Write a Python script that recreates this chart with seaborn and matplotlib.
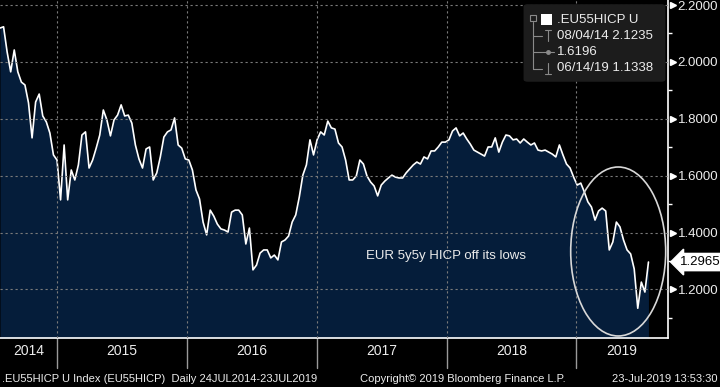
import pandas as pd
import matplotlib
matplotlib.use("Agg")
import matplotlib.pyplot as plt
import matplotlib.transforms as mtransforms
from matplotlib.patches import Ellipse, FancyBboxPatch, Rectangle
from matplotlib.lines import Line2D
import seaborn as sns

# series: EUR 5y5y HICP (about every 10 days)
START = "2014-07-24"
END = "2019-07-23"
values = [
    2.119, 2.1235, 2.035, 1.965, 2.042, 1.965, 1.929, 1.919, 1.856, 1.733,
    1.859, 1.887, 1.810, 1.789, 1.750, 1.673, 1.655, 1.515, 1.708, 1.515,
    1.620, 1.585, 1.638, 1.743, 1.754, 1.627, 1.655, 1.697, 1.743, 1.831,
    1.796, 1.740, 1.796, 1.813, 1.849, 1.810, 1.813, 1.785, 1.708, 1.659,
    1.627, 1.694, 1.701, 1.585, 1.610, 1.666, 1.736, 1.754, 1.761, 1.803,
    1.708, 1.697, 1.659, 1.655, 1.620, 1.550, 1.518, 1.437, 1.392, 1.479,
    1.458, 1.430, 1.413, 1.409, 1.402, 1.472, 1.479, 1.479, 1.462, 1.360,
    1.416, 1.269, 1.286, 1.328, 1.339, 1.339, 1.311, 1.321, 1.304, 1.367,
    1.374, 1.388, 1.437, 1.462, 1.525, 1.602, 1.638, 1.726, 1.673, 1.726,
    1.754, 1.743, 1.792, 1.768, 1.764, 1.715, 1.701, 1.655, 1.585, 1.585,
    1.599, 1.655, 1.641, 1.599, 1.578, 1.564, 1.529, 1.567, 1.581, 1.592,
    1.602, 1.595, 1.592, 1.592, 1.610, 1.624, 1.638, 1.648, 1.641, 1.666,
    1.659, 1.687, 1.687, 1.701, 1.718, 1.718, 1.726, 1.757, 1.768, 1.740,
    1.750, 1.729, 1.711, 1.690, 1.683, 1.676, 1.669, 1.701, 1.701, 1.733,
    1.683, 1.718, 1.743, 1.740, 1.726, 1.729, 1.715, 1.729, 1.718, 1.708,
    1.715, 1.690, 1.687, 1.690, 1.683, 1.676, 1.666, 1.708, 1.673, 1.641,
    1.627, 1.595, 1.567, 1.574, 1.543, 1.508, 1.490, 1.444, 1.476, 1.486,
    1.476, 1.339, 1.367, 1.437, 1.420, 1.374, 1.339, 1.325, 1.272, 1.134,
    1.226, 1.191, 1.2965,
]
years = ["2014", "2015", "2016", "2017", "2018", "2019"]
year_starts = ["2015-01-01", "2016-01-01", "2017-01-01", "2018-01-01", "2019-01-01"]
yticks = [1.2, 1.4, 1.6, 1.8, 2.0, 2.2]
yticks_minor = [1.1, 1.3, 1.5, 1.7, 1.9, 2.1]
last_value = 1.2965
legend_rows = [".EU55HICP U", "08/04/14 2.1235", "1.6196", "06/14/19 1.1338"]
note = "EUR 5y5y HICP off its lows"
footer_left = ".EU55HICP U Index (EU55HICP)  Daily 24JUL2014-23JUL2019"
footer_mid = "Copyright\u00a9 2019 Bloomberg Finance L.P."
footer_right = "23-Jul-2019 13:53:30"

BG = "black"
FILL = "#051d3a"
TXT = "#ececec"
GRID = "#7a7a7a"

sns.set_style("dark", {"axes.facecolor": BG, "figure.facecolor": BG})
plt.rcParams["font.family"] = ["Liberation Sans", "DejaVu Sans"]

dates = pd.date_range(START, END, periods=len(values))
df = pd.DataFrame({"date": dates, "value": values})

fig = plt.figure(figsize=(7.2, 3.87), dpi=100, facecolor=BG)
ax = fig.add_axes([0, 49 / 387, 668 / 720, 338 / 387])
ax.set_facecolor(BG)

ymin, ymax = 1.0295, 2.2176
ax.fill_between(df["date"], df["value"], ymin, color=FILL, lw=0, zorder=2)
sns.lineplot(data=df, x="date", y="value", ax=ax, color="white", lw=1.2, zorder=3)
ax.set_xlim(pd.Timestamp(START), pd.Timestamp("2019-09-16"))
ax.set_ylim(ymin, ymax)
ax.set_xlabel("")
ax.set_ylabel("")

# grid
ax.grid(False)
for v in yticks:
    ax.axhline(v, color=GRID, lw=0.8, ls=(0, (2, 2.5)), zorder=4)
for d in year_starts:
    ax.axvline(pd.Timestamp(d), color=GRID, lw=0.8, ls=(0, (2, 2.5)), zorder=4)

# spines
for s in ["left", "top"]:
    ax.spines[s].set_visible(False)
for s in ["right", "bottom"]:
    ax.spines[s].set_color("white")
    ax.spines[s].set_linewidth(1.2)

# y axis on the right
ax.yaxis.tick_right()
ax.set_yticks(yticks)
ax.set_yticklabels([f"{v:.4f}" for v in yticks])
ax.set_yticks(yticks_minor, minor=True)
ax.tick_params(axis="y", which="major", length=0, pad=7, labelsize=9.5, labelcolor=TXT)
ax.tick_params(axis="y", which="minor", length=3, width=1, color="white", direction="out")
ytrans = mtransforms.blended_transform_factory(ax.transAxes, ax.transData)
ax.plot([1.007] * len(yticks), yticks, transform=ytrans, marker=">", ms=5,
        color="white", ls="none", clip_on=False)

# last value tag
ax.text(1.018, last_value, f"{last_value:.4f}", transform=ytrans, ha="left", va="center",
        fontsize=9.5, color="black",
        bbox=dict(boxstyle="larrow,pad=0.2", fc="white", ec="white"))

# x axis: quarterly ticks, year separators and labels
quarters = pd.date_range("2014-10-01", "2019-07-01", freq="QS")
ax.set_xticks(quarters)
ax.set_xticklabels([])
ax.tick_params(axis="x", length=5, width=1, color="white", direction="out")
xtrans = mtransforms.blended_transform_factory(ax.transData, ax.transAxes)
for d in year_starts:
    ax.plot([pd.Timestamp(d)] * 2, [0, -30 / 338], transform=xtrans, color="#9a9a9a",
            lw=1, clip_on=False)
bounds = [pd.Timestamp(START)] + [pd.Timestamp(d) for d in year_starts] + [pd.Timestamp("2019-09-16")]
for i, y in enumerate(years):
    mid = bounds[i] + (bounds[i + 1] - bounds[i]) / 2
    ax.text(mid, -13 / 338, y, transform=xtrans, ha="center", va="center",
            fontsize=10, color=TXT)

# annotation and ellipse
ax.text(pd.Timestamp("2017-12-31"), 1.318, note, ha="center", va="center",
        fontsize=9.5, color=TXT, zorder=5)
ax.add_patch(Ellipse((618.2 / 668, (338 - 251.5) / 338), 95 / 668, 169 / 338,
                     transform=ax.transAxes, fill=False, ec="#d8d8d8", lw=1.2,
                     zorder=6, clip_on=False))

# legend box (Bloomberg style)
def fx(px):
    return px / 720


def fy(py):
    return 1 - py / 387


fig.patches.append(FancyBboxPatch((fx(525), fy(81)), fx(139), 76 / 387,
                                  boxstyle="round,pad=0.002,rounding_size=0.006",
                                  transform=fig.transFigure, fc="#1c1c1c", ec="none",
                                  zorder=10))
fig.patches.append(Rectangle((fx(541), fy(25)), fx(11), 11 / 387,
                             transform=fig.transFigure, fc="white", ec="none", zorder=11))
fig.patches.append(Rectangle((fx(530), fy(21)), fx(6), 6 / 387, transform=fig.transFigure,
                             fc="none", ec="#8a8a8a", lw=0.8, zorder=11))
tree = "#8a8a8a"
fig.lines.append(Line2D([fx(533), fx(533)], [fy(22), fy(69)], transform=fig.transFigure,
                        color=tree, lw=0.8, zorder=11))
for ry in [36, 52, 69]:
    fig.lines.append(Line2D([fx(533), fx(542)], [fy(ry), fy(ry)], transform=fig.transFigure,
                            color=tree, lw=0.8, zorder=11))
# high / mid / low glyphs
fig.lines.append(Line2D([fx(545), fx(551)], [fy(30), fy(30)], transform=fig.transFigure, color=tree, lw=0.8, zorder=11))
fig.lines.append(Line2D([fx(548), fx(548)], [fy(30), fy(41)], transform=fig.transFigure, color=tree, lw=0.8, zorder=11))
fig.lines.append(Line2D([fx(542), fx(554)], [fy(52), fy(52)], transform=fig.transFigure, color=tree, lw=0.8, zorder=11))
fig.lines.append(Line2D([fx(548)], [fy(52)], transform=fig.transFigure, color=tree, marker="o", ms=2.5, zorder=11))
fig.lines.append(Line2D([fx(545), fx(551)], [fy(74), fy(74)], transform=fig.transFigure, color=tree, lw=0.8, zorder=11))
fig.lines.append(Line2D([fx(548), fx(548)], [fy(63), fy(74)], transform=fig.transFigure, color=tree, lw=0.8, zorder=11))
for row, ry in zip(legend_rows, [20, 36, 52, 68]):
    fig.text(fx(557), fy(ry), row, ha="left", va="center", fontsize=9.5, color=TXT, zorder=12)

# footer
fig.text(fx(2), fy(379), footer_left, ha="left", va="center", fontsize=8, color=TXT)
fig.text(fx(360), fy(379), footer_mid, ha="left", va="center", fontsize=8, color=TXT)
fig.text(fx(718), fy(379), footer_right, ha="right", va="center", fontsize=8, color=TXT)

fig.savefig("out.png", dpi=100, facecolor=BG)
